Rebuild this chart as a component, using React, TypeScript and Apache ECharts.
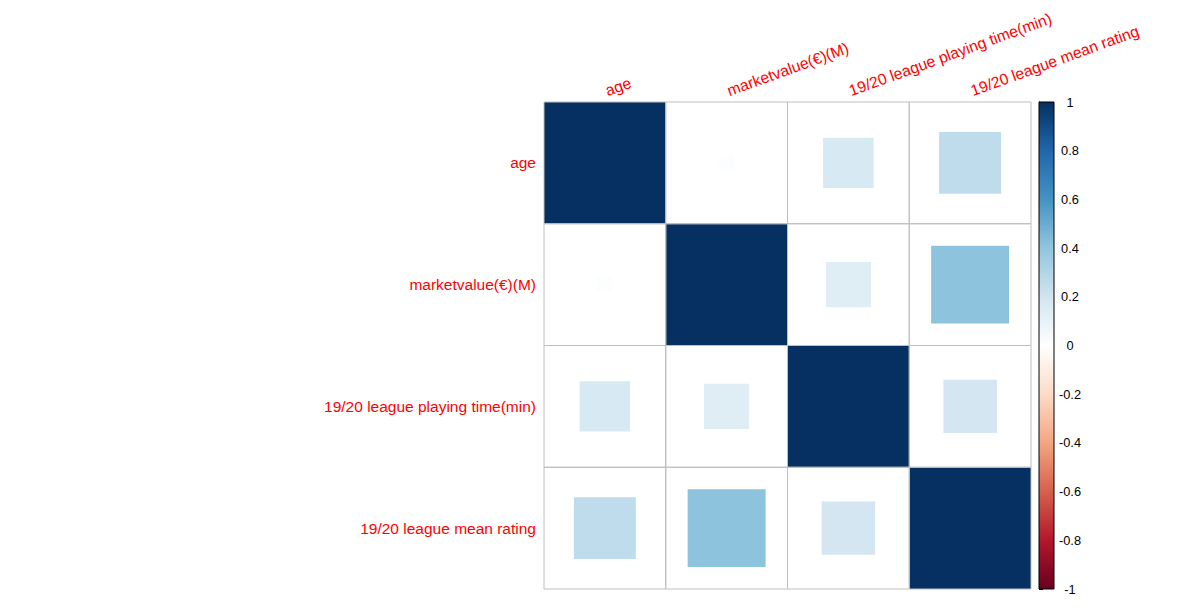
import React, { useEffect, useRef } from "react";
import * as echarts from "echarts";

const variables = [
  "age",
  "marketvalue(€)(M)",
  "19/20 league playing time(min)",
  "19/20 league mean rating",
];

const corrAge = [1, 0.017, 0.172, 0.259];
const corrMarket = [0.017, 1, 0.137, 0.41];
const corrPlaying = [0.172, 0.137, 1, 0.193];
const corrRating = [0.259, 0.41, 0.193, 1];
const corrRows = [corrAge, corrMarket, corrPlaying, corrRating];

const palette = [
  "#67001F",
  "#B2182B",
  "#D6604D",
  "#F4A582",
  "#FDDBC7",
  "#FFFFFF",
  "#D1E5F0",
  "#92C5DE",
  "#4393C3",
  "#2166AC",
  "#053061",
];

const FONT = "'Liberation Sans', Arial, sans-serif";

export default function App() {
  const ref = useRef<HTMLDivElement>(null);

  useEffect(() => {
    if (!ref.current) return;
    const chart = echarts.init(ref.current, undefined, { renderer: "svg" });

    const cells: number[][] = [];
    corrRows.forEach((row, yi) => {
      row.forEach((v, xi) => {
        cells.push([xi, yi, v]);
      });
    });

    const stops = palette
      .slice()
      .reverse()
      .map((c, i) => ({ offset: i / (palette.length - 1), color: c }));

    const option: any = {
      animation: false,
      backgroundColor: "#ffffff",
      textStyle: { fontFamily: FONT },
      grid: [
        { left: 544, top: 102, width: 487, height: 487, outerBoundsMode: "none" },
        { left: 1039, top: 102, width: 15, height: 487, outerBoundsMode: "none" },
      ],
      xAxis: [
        {
          type: "category",
          gridIndex: 0,
          data: variables,
          position: "top",
          axisLine: { show: false },
          axisTick: { show: false },
          splitLine: { show: false },
          axisLabel: {
            interval: 0,
            rotate: -20,
            color: "#FF0000",
            fontSize: 15.7,
            fontFamily: FONT,
            align: "left",
            verticalAlign: "bottom",
            padding: [0, 0, 0, 4],
            margin: 2,
          },
        },
        {
          type: "value",
          gridIndex: 1,
          min: 0,
          max: 1,
          show: false,
        },
      ],
      yAxis: [
        {
          type: "category",
          gridIndex: 0,
          data: variables,
          inverse: true,
          axisLine: { show: false },
          axisTick: { show: false },
          splitLine: { show: false },
          axisLabel: {
            interval: 0,
            color: "#FF0000",
            fontSize: 15.5,
            fontFamily: FONT,
            margin: 8,
          },
        },
        {
          type: "value",
          gridIndex: 1,
          min: -1,
          max: 1,
          interval: 0.2,
          position: "right",
          axisLine: { show: true, lineStyle: { color: "#000000", width: 1 } },
          axisTick: { show: true, length: 4, lineStyle: { color: "#000000" } },
          splitLine: { show: false },
          axisLabel: {
            color: "#000000",
            fontSize: 12.8,
            fontFamily: FONT,
            align: "center",
            margin: 16,
          },
        },
      ],
      visualMap: {
        type: "continuous",
        show: false,
        seriesIndex: 0,
        dimension: 2,
        min: -1,
        max: 1,
        inRange: { color: palette },
      },
      series: [
        {
          type: "custom",
          xAxisIndex: 0,
          yAxisIndex: 0,
          data: cells,
          z: 2,
          renderItem: (params: any, api: any) => {
            const x = api.value(0);
            const y = api.value(1);
            const r = api.value(2);
            const c = api.coord([x, y]);
            const s = api.size([1, 1]);
            const side = Math.sqrt(Math.abs(r)) * s[0];
            const sideY = Math.sqrt(Math.abs(r)) * s[1];
            return {
              type: "rect",
              shape: { x: c[0] - side / 2, y: c[1] - sideY / 2, width: side, height: sideY },
              style: { fill: api.visual("color"), stroke: null },
            };
          },
        },
        {
          type: "custom",
          xAxisIndex: 0,
          yAxisIndex: 0,
          data: cells,
          z: 3,
          silent: true,
          renderItem: (params: any, api: any) => {
            const c = api.coord([api.value(0), api.value(1)]);
            const s = api.size([1, 1]);
            return {
              type: "rect",
              shape: { x: c[0] - s[0] / 2, y: c[1] - s[1] / 2, width: s[0], height: s[1] },
              style: { fill: "rgba(0,0,0,0)", stroke: "#BEBEBE", lineWidth: 1 },
            };
          },
        },
        {
          type: "custom",
          xAxisIndex: 1,
          yAxisIndex: 1,
          data: [[0, 0]],
          silent: true,
          renderItem: (params: any, api: any) => {
            const tl = api.coord([0, 1]);
            const br = api.coord([1, -1]);
            return {
              type: "rect",
              shape: { x: tl[0], y: tl[1], width: br[0] - tl[0], height: br[1] - tl[1] },
              style: {
                fill: new echarts.graphic.LinearGradient(0, 0, 0, 1, stops),
                stroke: "#000000",
                lineWidth: 1,
              },
            };
          },
        },
      ],
    };

    chart.setOption(option);
    return () => {
      chart.dispose();
    };
  }, []);

  return (
    <div
      ref={ref}
      style={{ position: "absolute", left: 0, top: 0, width: 1200, height: 616 }}
    />
  );
}
